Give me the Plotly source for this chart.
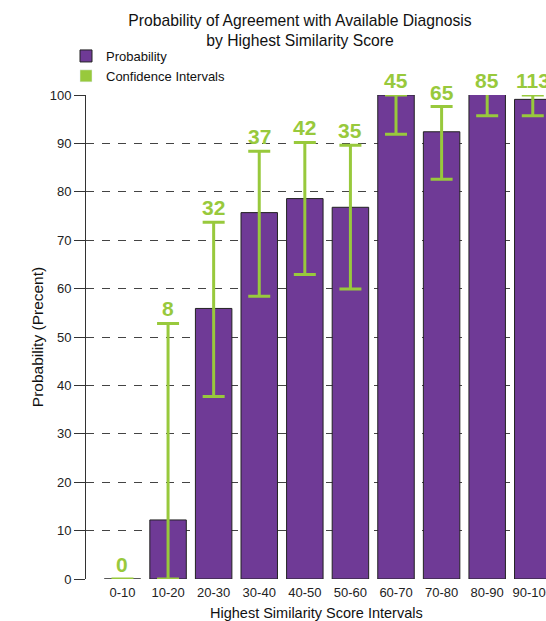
import plotly.graph_objects as go

categories = ["0-10", "10-20", "20-30", "30-40", "40-50", "50-60", "60-70", "70-80", "80-90", "90-100"]
probability = [0, 12.2, 55.9, 75.7, 78.6, 76.8, 100, 92.4, 100.4, 99.1]
ci_lower = [0, 0, 37.7, 58.4, 62.9, 59.9, 91.9, 82.6, 95.7, 95.7]
ci_upper = [0, 52.8, 73.7, 88.4, 90.2, 89.6, 100, 97.6, 100, 100]
counts = ["0", "8", "32", "37", "42", "35", "45", "65", "85", "113"]

PURPLE = "#6f3a96"
GREEN = "#98c93c"
FONT = "Liberation Sans, Arial, sans-serif"

err_plus = [u - p if u >= p else 0 for u, p in zip(ci_upper, probability)]
err_minus = [p - l for p, l in zip(probability, ci_lower)]

fig = go.Figure()
fig.add_trace(go.Bar(
    x=categories, y=probability, name="Probability",
    marker=dict(color=PURPLE, line=dict(color="#222222", width=1)),
    error_y=dict(type="data", symmetric=False, array=err_plus, arrayminus=err_minus,
                 color=GREEN, thickness=3, width=11),
    cliponaxis=False,
))
fig.add_trace(go.Bar(
    x=[categories[0]], y=[None], name="Confidence Intervals",
    marker=dict(color=GREEN),
))

for c, u, n in zip(categories, ci_upper, counts):
    fig.add_annotation(x=c, y=u, text=n, showarrow=False, yanchor="bottom", yshift=1,
                       font=dict(family=FONT, size=21, color=GREEN, weight="bold"))

fig.add_annotation(xref="paper", yref="paper", x=0.5, y=-24 / 484, text="Highest Similarity Score Intervals",
                   showarrow=False, xanchor="center", yanchor="top",
                   font=dict(family=FONT, size=14.5, color="#111111"))

fig.update_layout(
    width=546, height=621,
    margin=dict(l=86, r=0, t=95, b=42, autoexpand=False),
    paper_bgcolor="white", plot_bgcolor="white",
    bargap=0.2, barmode="overlay",
    showlegend=True,
    legend=dict(x=(66 - 86) / 460, y=1 + 54 / 484,
                xanchor="left", yanchor="top",
                font=dict(family=FONT, size=13, color="#111111"),
                bgcolor="rgba(0,0,0,0)", itemwidth=30, tracegroupgap=0),
    title=dict(text="Probability of Agreement with Available Diagnosis<br>by Highest Similarity Score",
               xref="container", yref="container", x=300 / 546, y=1 - 26 / 621,
               xanchor="center", yanchor="top",
               font=dict(family=FONT, size=15.7, color="#111111")),
    xaxis=dict(range=[-0.8, 9.29], showgrid=False, showline=False, zeroline=False,
               ticks="", tickangle=0, ticklabelstandoff=4,
               tickfont=dict(family=FONT, size=13, color="#222222")),
    yaxis=dict(range=[0, 100], tickvals=list(range(0, 101, 10)),
               showgrid=True, gridcolor="#444444", griddash="8px,8px", gridwidth=1,
               zeroline=False, showline=True, linecolor="#333333", linewidth=1,
               ticks="outside", ticklen=11, tickcolor="#333333",
               tickfont=dict(family=FONT, size=13, color="#222222"),
               title=dict(text="Probability (Precent)", font=dict(family=FONT, size=15.5, color="#111111"),
                          standoff=2)),
)

fig.write_html("out.html")
